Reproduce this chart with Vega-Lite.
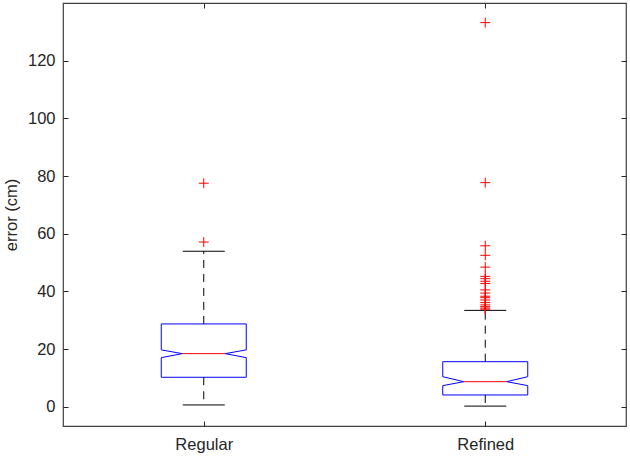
{
  "$schema": "https://vega.github.io/schema/vega-lite/v6.json",
  "width": 563,
  "height": 423,
  "autosize": "none",
  "padding": {"left": 63, "top": 3, "right": 4, "bottom": 31},
  "background": "white",
  "config": {
    "view": {"stroke": "#404040", "strokeWidth": 1.2},
    "font": "Liberation Sans",
    "axis": {
      "labelFont": "Liberation Sans",
      "titleFont": "Liberation Sans",
      "labelFontSize": 16.5,
      "titleFontSize": 16.5,
      "labelColor": "#262626",
      "titleColor": "#262626",
      "titleFontWeight": "normal",
      "tickColor": "#262626",
      "domain": false,
      "grid": false,
      "tickSize": -5
    }
  },
  "datasets": {
    "stats": [
      {"group": "Regular", "q1": 10.2, "q3": 28.7, "med": 18.4, "nlo": 17.0, "nhi": 19.7, "wlo": 0.6, "whi": 53.9},
      {"group": "Refined", "q1": 4.06, "q3": 15.6, "med": 8.67, "nlo": 7.3, "nhi": 10.4, "wlo": 0.2, "whi": 33.4}
    ],
    "outliers": [
      {"group": "Regular", "value": 77.5},
      {"group": "Regular", "value": 57.1},
      {"group": "Refined", "value": 133.2},
      {"group": "Refined", "value": 77.7},
      {"group": "Refined", "value": 55.8},
      {"group": "Refined", "value": 52.5},
      {"group": "Refined", "value": 48.4},
      {"group": "Refined", "value": 45.2},
      {"group": "Refined", "value": 44.4},
      {"group": "Refined", "value": 43.5},
      {"group": "Refined", "value": 42.7},
      {"group": "Refined", "value": 40.5},
      {"group": "Refined", "value": 39.4},
      {"group": "Refined", "value": 38.3},
      {"group": "Refined", "value": 37.8},
      {"group": "Refined", "value": 37.0},
      {"group": "Refined", "value": 36.1},
      {"group": "Refined", "value": 35.3},
      {"group": "Refined", "value": 34.7},
      {"group": "Refined", "value": 34.2},
      {"group": "Refined", "value": 33.8}
    ]
  },
  "data": {"name": "stats"},
  "resolve": {"axis": {"x": "independent", "y": "independent"}},
  "layer": [
    {
      "mark": {"type": "rule", "color": "#0000ff", "strokeWidth": 1, "xOffset": -42.5, "x2Offset": 42.5},
      "encoding": {
        "x": {"field": "group", "type": "nominal", "scale": {"type": "point", "padding": 0.5, "domain": ["Regular", "Refined"]},
              "axis": {"orient": "bottom", "title": null, "labelAngle": 0, "labelPadding": 15}},
        "x2": {"field": "group"},
        "y": {"field": "q3", "type": "quantitative", "scale": {"domain": [-6.7, 140], "nice": false, "zero": false},
              "axis": {"orient": "left", "title": "error (cm)", "values": [0, 20, 40, 60, 80, 100, 120], "labelPadding": 13, "titlePadding": 8}}
      }
    },
    {
      "mark": {"type": "rule", "color": "#0000ff", "strokeWidth": 1, "xOffset": -42.5, "x2Offset": 42.5},
      "encoding": {
        "x": {"field": "group", "type": "nominal", "axis": {"orient": "top", "title": null, "labels": false}},
        "x2": {"field": "group"},
        "y": {"field": "q1", "type": "quantitative", "axis": {"orient": "right", "title": null, "labels": false, "values": [0, 20, 40, 60, 80, 100, 120]}}
      }
    },
    {
      "mark": {"type": "rule", "color": "#0000ff", "strokeWidth": 1, "xOffset": -42.5},
      "encoding": {
        "x": {"field": "group", "type": "nominal", "axis": null},
        "y": {"field": "q3", "type": "quantitative", "axis": null},
        "y2": {"field": "nhi"}
      }
    },
    {
      "mark": {"type": "rule", "color": "#0000ff", "strokeWidth": 1, "xOffset": -42.5},
      "encoding": {
        "x": {"field": "group", "type": "nominal", "axis": null},
        "y": {"field": "q1", "type": "quantitative", "axis": null},
        "y2": {"field": "nlo"}
      }
    },
    {
      "mark": {"type": "rule", "color": "#0000ff", "strokeWidth": 1, "xOffset": 42.5},
      "encoding": {
        "x": {"field": "group", "type": "nominal", "axis": null},
        "y": {"field": "q3", "type": "quantitative", "axis": null},
        "y2": {"field": "nhi"}
      }
    },
    {
      "mark": {"type": "rule", "color": "#0000ff", "strokeWidth": 1, "xOffset": 42.5},
      "encoding": {
        "x": {"field": "group", "type": "nominal", "axis": null},
        "y": {"field": "q1", "type": "quantitative", "axis": null},
        "y2": {"field": "nlo"}
      }
    },
    {
      "mark": {"type": "rule", "color": "#0000ff", "strokeWidth": 1, "xOffset": -42.5, "x2Offset": -21.5},
      "encoding": {
        "x": {"field": "group", "type": "nominal", "axis": null},
        "x2": {"field": "group"},
        "y": {"field": "nhi", "type": "quantitative", "axis": null},
        "y2": {"field": "med"}
      }
    },
    {
      "mark": {"type": "rule", "color": "#0000ff", "strokeWidth": 1, "xOffset": -42.5, "x2Offset": -21.5},
      "encoding": {
        "x": {"field": "group", "type": "nominal", "axis": null},
        "x2": {"field": "group"},
        "y": {"field": "nlo", "type": "quantitative", "axis": null},
        "y2": {"field": "med"}
      }
    },
    {
      "mark": {"type": "rule", "color": "#0000ff", "strokeWidth": 1, "xOffset": 42.5, "x2Offset": 21.5},
      "encoding": {
        "x": {"field": "group", "type": "nominal", "axis": null},
        "x2": {"field": "group"},
        "y": {"field": "nhi", "type": "quantitative", "axis": null},
        "y2": {"field": "med"}
      }
    },
    {
      "mark": {"type": "rule", "color": "#0000ff", "strokeWidth": 1, "xOffset": 42.5, "x2Offset": 21.5},
      "encoding": {
        "x": {"field": "group", "type": "nominal", "axis": null},
        "x2": {"field": "group"},
        "y": {"field": "nlo", "type": "quantitative", "axis": null},
        "y2": {"field": "med"}
      }
    },
    {
      "mark": {"type": "rule", "color": "#ff0000", "strokeWidth": 1, "xOffset": -21.5, "x2Offset": 21.5},
      "encoding": {
        "x": {"field": "group", "type": "nominal", "axis": null},
        "x2": {"field": "group"},
        "y": {"field": "med", "type": "quantitative", "axis": null}
      }
    },
    {
      "mark": {"type": "rule", "color": "#000000", "strokeWidth": 1, "strokeDash": [8, 6]},
      "encoding": {
        "x": {"field": "group", "type": "nominal", "axis": null},
        "y": {"field": "q3", "type": "quantitative", "axis": null},
        "y2": {"field": "whi"}
      }
    },
    {
      "mark": {"type": "rule", "color": "#000000", "strokeWidth": 1, "strokeDash": [8, 6]},
      "encoding": {
        "x": {"field": "group", "type": "nominal", "axis": null},
        "y": {"field": "q1", "type": "quantitative", "axis": null},
        "y2": {"field": "wlo"}
      }
    },
    {
      "mark": {"type": "rule", "color": "#000000", "strokeWidth": 1, "xOffset": -21, "x2Offset": 21},
      "encoding": {
        "x": {"field": "group", "type": "nominal", "axis": null},
        "x2": {"field": "group"},
        "y": {"field": "whi", "type": "quantitative", "axis": null}
      }
    },
    {
      "mark": {"type": "rule", "color": "#000000", "strokeWidth": 1, "xOffset": -21, "x2Offset": 21},
      "encoding": {
        "x": {"field": "group", "type": "nominal", "axis": null},
        "x2": {"field": "group"},
        "y": {"field": "wlo", "type": "quantitative", "axis": null}
      }
    },
    {
      "data": {"name": "outliers"},
      "mark": {"type": "point", "shape": "M-1,0L1,0M0,-1L0,1", "filled": false, "stroke": "#ff0000", "strokeWidth": 1, "size": 100, "opacity": 1},
      "encoding": {
        "x": {"field": "group", "type": "nominal", "axis": null},
        "y": {"field": "value", "type": "quantitative", "axis": null}
      }
    }
  ]
}
